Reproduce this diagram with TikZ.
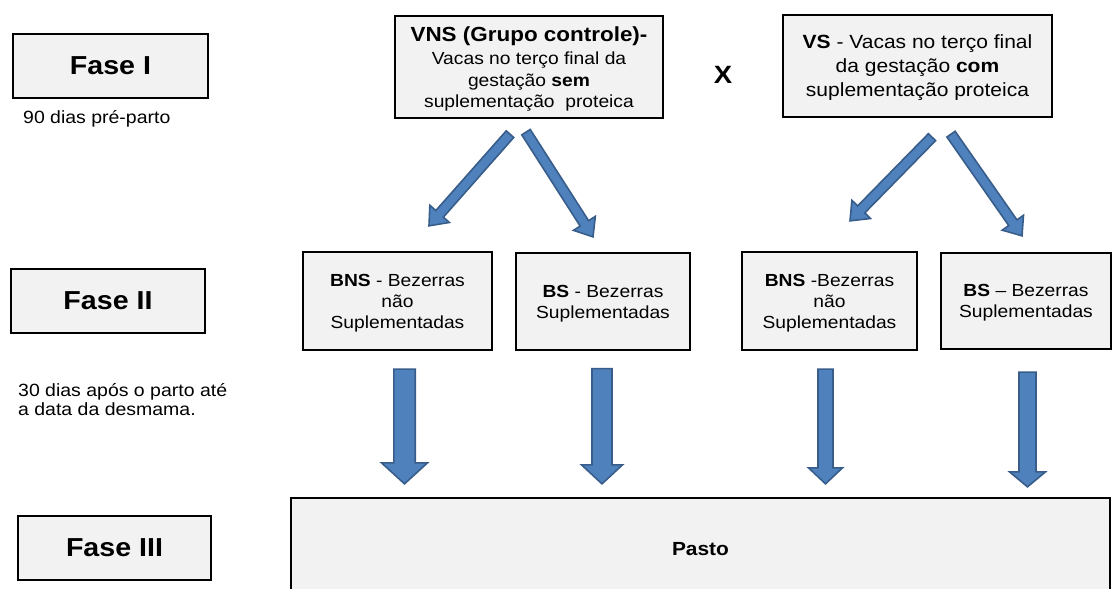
\documentclass[tikz,border=0pt]{standalone}
\usepackage{fontspec}
\setmainfont{Liberation Sans}[FakeStretch=1.1]
\usepackage{tikz}
\usetikzlibrary{calc}
\definecolor{boxgray}{RGB}{242,242,242}
\definecolor{arrowfill}{RGB}{79,129,189}
\definecolor{arrowedge}{RGB}{56,93,138}

\tikzset{
	box/.style={draw=black, fill=boxgray, line width=2.3pt, inner sep=0pt, align=center, text depth=0pt, font=\fontsize{17.5}{21}\selectfont},
	fasebox/.style={box, minimum width=195pt, minimum height=64pt, font=\fontsize{26}{30}\selectfont\bfseries},
	note/.style={inner sep=0pt, align=left, font=\fontsize{17.7}{19}\selectfont},
	blockarrow/.style n args={3}{draw=arrowedge, fill=arrowfill, line width=1.6pt, line join=miter,
		to path={let \p1=(\tikztostart), \p2=(\tikztotarget), \n1={atan2(\y2-\y1,\x2-\x1)} in
			($(\p1)+({\n1+90}:#1pt)$) -- ($(\p2)+({\n1+180}:#3pt)+({\n1+90}:#1pt)$)
			-- ($(\p2)+({\n1+180}:#3pt)+({\n1+90}:#2pt)$) -- (\p2)
			-- ($(\p2)+({\n1+180}:#3pt)+({\n1-90}:#2pt)$) -- ($(\p2)+({\n1+180}:#3pt)+({\n1-90}:#1pt)$)
			-- ($(\p1)+({\n1-90}:#1pt)$) -- cycle}}
}

\begin{document}
\begin{tikzpicture}[x=1pt, y=-1pt]
		\useasboundingbox (0,0) rectangle (1112,589);
		\clip (0,0) rectangle (1112,589);
		
		% fases
		\node[fasebox] (fase1) at (110.5,66) {Fase I};
		\node[fasebox, minimum width=194pt] (fase2) at (108,301) {Fase II};
		\node[fasebox, minimum width=193pt] (fase3) at (114.5,548) {Fase III};
		\node[note, anchor=base west] (nota1) at (23,123) {90 dias pré-parto};
		\node[note, anchor=base west] (nota2) at (18,415) {30 dias após o parto até\\a data da desmama.};
		
		% vacas
		\node[box, minimum width=268pt, minimum height=102pt, font=\fontsize{17.5}{21.5}\selectfont] (vns) at (529,67) {{\fontsize{20.4}{24}\selectfont\bfseries VNS (Grupo controle)-}\\[2pt]Vacas no terço final da\\gestação \textbf{sem}\\suplementação\ \ proteica};
		\node[font=\fontsize{25}{30}\selectfont\bfseries] (versus) at (723,75) {X};
		\node[box, minimum width=269pt, minimum height=102pt, font=\fontsize{19.1}{24}\selectfont] (vs) at (917.5,66) {\textbf{VS} - Vacas no terço final\\da gestação \textbf{com}\\suplementação proteica};
		
		% bezerras
		\node[box, minimum width=189pt, minimum height=98pt] (bns1) at (397.5,301) {\textbf{BNS} - Bezerras\\não\\Suplementadas};
		\node[box, minimum width=174pt, minimum height=97pt] (bs1) at (603,301.5) {\textbf{BS} - Bezerras\\Suplementadas};
		\node[box, minimum width=175pt, minimum height=98pt] (bns2) at (829.5,301) {\textbf{BNS} -Bezerras\\não\\Suplementadas};
		\node[box, minimum width=170pt, minimum height=96pt] (bs2) at (1026,301) {\textbf{BS} – Bezerras\\Suplementadas};
		
		\node[box, minimum width=819pt, minimum height=102pt, font=\fontsize{19}{22}\selectfont\bfseries] (pasto) at (700.5,549) {Pasto};
		
		\draw[blockarrow={5}{13}{16}] ($(vns.south)+(-19,15)$) to ($(bns1.north)+(31.5,-25)$);
		\draw[blockarrow={5}{13}{16}] ($(vns.south)+(-3,13)$) to ($(bs1.north)+(-10,-15)$);
		\draw[blockarrow={5}{13}{16}] ($(vs.south)+(14.5,19)$) to ($(bns2.north)+(20.5,-30)$);
		\draw[blockarrow={5}{13}{16}] ($(vs.south)+(33.5,16)$) to ($(bs2.north)+(-4,-16)$);
		
		\draw[blockarrow={10.7}{23}{21}] ($(bns1.south)+(7,18)$) to ($(bns1.south |- pasto.north)+(7,-13)$);
		\draw[blockarrow={10}{20.5}{19}] ($(bs1.south)+(-1,17.5)$) to ($(bs1.south |- pasto.north)+(-1,-13)$);
		\draw[blockarrow={7.5}{17}{16}] ($(bns2.south)+(-4,18)$) to ($(bns2.south |- pasto.north)+(-4,-13)$);
		\draw[blockarrow={8.5}{18}{15}] ($(bs2.south)+(1.5,22)$) to ($(bs2.south |- pasto.north)+(1.5,-10)$);
		
\end{tikzpicture}
\end{document}
